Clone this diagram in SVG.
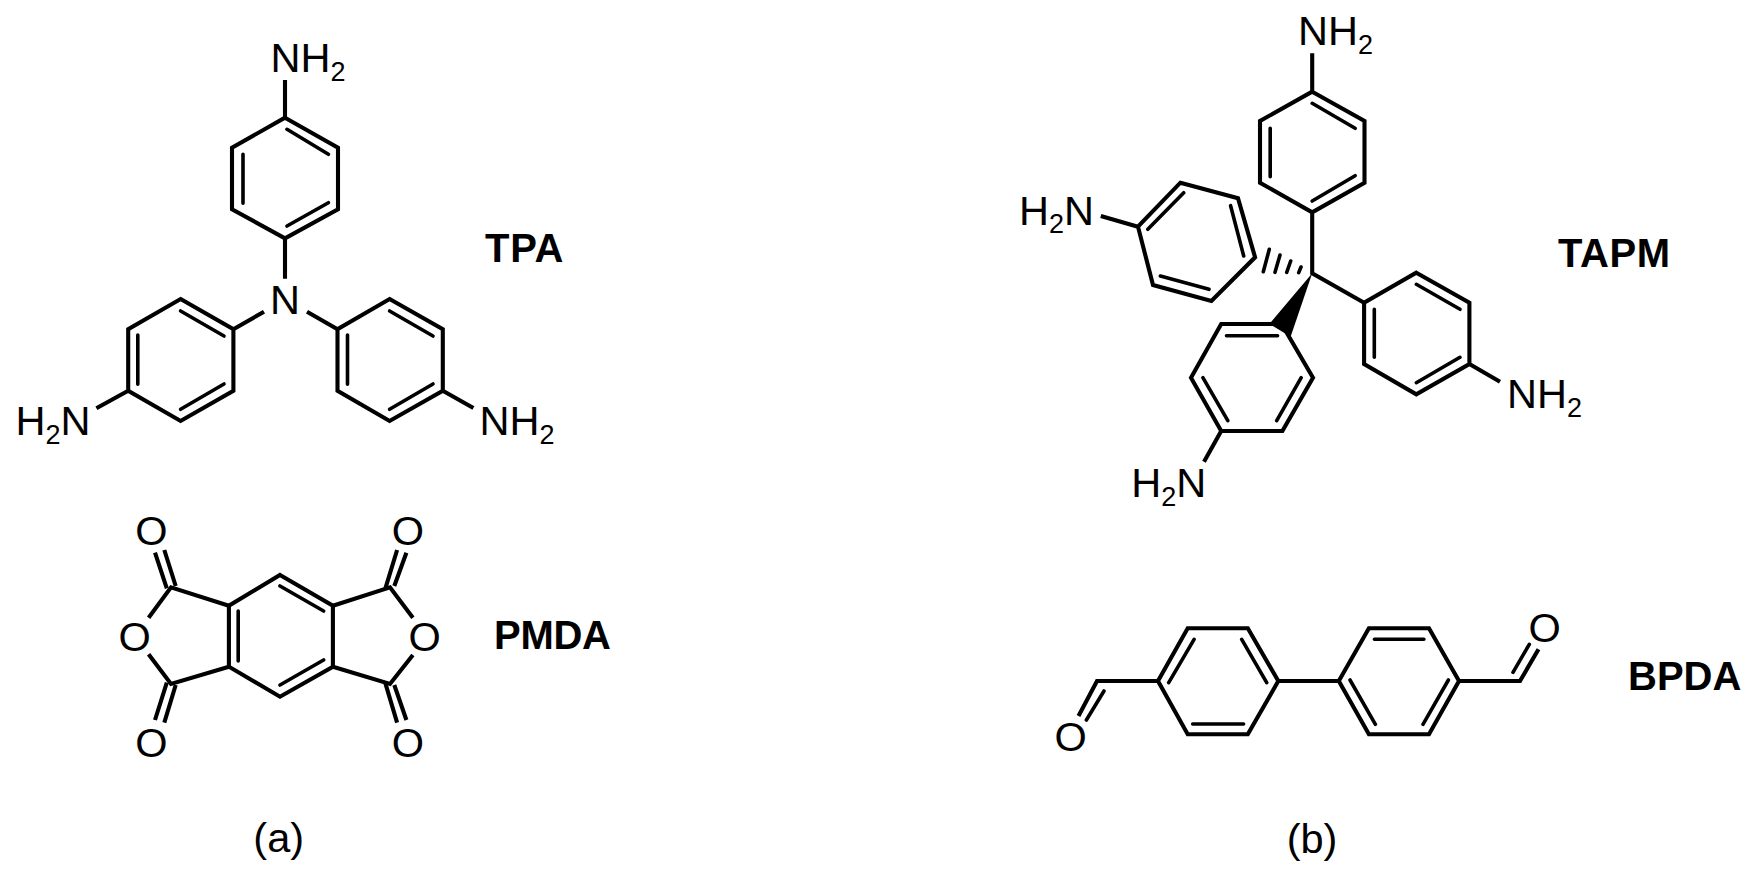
<svg xmlns="http://www.w3.org/2000/svg" width="1755" height="878" viewBox="0 0 1755 878">
<style>
.b{fill:none;stroke:#000;stroke-width:4.1;stroke-linejoin:miter;stroke-linecap:butt}
.d{fill:none;stroke:#000;stroke-width:3.6;stroke-linecap:round}
.h{fill:none;stroke:#000;stroke-width:3.6;stroke-linecap:round}
text{font-family:"Liberation Sans",Arial,sans-serif;font-size:41.5px;fill:#000}
text.l{font-weight:bold;font-size:40px}
.o{text-anchor:middle}
tspan.s{font-size:27px}
</style>
<rect width="1755" height="878" fill="#fff"/>
<g id="tpa">
<path class="b" d="M285 117.7L338 147.7V209.3L285 238.3L232 209.3V147.7ZM285 80V117.7M285 238.3V278.7"/>
<path class="d" d="M287 129.3L328.4 154.3M243 154.3V203.3M328.4 202.7L287 226"/>
<path class="b" d="M180.6 299L233.4 329.3V390.7L180.6 421L128.2 390.7V329.3ZM233.4 329.3L264 311.7M128.2 390.7L96.4 408.3"/>
<path class="d" d="M180.6 311L224 336M137.8 335V384.3M224 384L180.6 409.3"/>
<path class="b" d="M389.6 299L442.8 329.3V390.7L389.6 421L337.5 390.7V329.3ZM337.5 329.3L307 311.7M442.8 390.7L473.4 408"/>
<path class="d" d="M389.6 311L433 336M347.5 335V384.3M433 384L389.6 409.3"/>
<text x="270.5" y="72">NH<tspan class="s" dy="8.7">2</tspan></text>
<text x="285" y="314" class="o">N</text>
<text x="15.5" y="435">H<tspan class="s" dy="8.7">2</tspan><tspan dy="-8.7">N</tspan></text>
<text x="479.5" y="435">NH<tspan class="s" dy="8.7">2</tspan></text>
<text x="485" y="261.5" class="l" textLength="78.5">TPA</text>
</g>
<g id="pmda">
<path class="b" d="M280 575L332.9 605.7V666.7L280 696.7L228.9 666.7V605.7Z"/>
<path class="d" d="M280 586L323.6 611M238.2 611V661M323.6 660L280 685"/>
<path class="b" d="M228.9 605.7L171 587.3L148.6 617.7M148.6 654.3L171 684L228.9 666.7M332.9 605.7L390 587.3L412.9 617.7M412.9 655L390 684L332.9 666.7"/>
<path class="b" d="M164.3 550L175.7 586M155 552.7L166.8 588.3M164.3 722.7L175.7 685M155 720L166.8 682.7M397.1 550L385.4 588.3M406.4 552.7L394.3 586M397.1 722.7L385.4 683.3M406.4 720L394.3 685"/>
<text x="151.4" y="544.5" class="o">O</text>
<text x="407.9" y="544.5" class="o">O</text>
<text x="134.6" y="650.5" class="o">O</text>
<text x="424.6" y="650.5" class="o">O</text>
<text x="151.4" y="757" class="o">O</text>
<text x="407.9" y="757" class="o">O</text>
<text x="494" y="648.8" class="l" textLength="117">PMDA</text>
<text x="278.7" y="852.3" class="o">(a)</text>
</g>
<g id="tapm">
<path class="b" d="M1312.2 91.7L1364.5 121V182.7L1312.2 212.3L1260 182.7V121ZM1312.2 53.3V91.7M1312.2 212.3V273.3L1364.1 302.7"/>
<path class="d" d="M1312.2 103.3L1355.1 128.3M1270.2 128.3V176.7M1355.1 175.7L1312.2 201"/>
<path class="b" d="M1416.3 272.7L1469.4 302.7V364L1416.3 394.3L1364.1 364V302.7ZM1469.4 364L1500 381.7"/>
<path class="d" d="M1416.3 284.3L1460 309.3M1374.3 309.3V357.3M1460 357.3L1416.3 382.7"/>
<path class="b" d="M1180.4 182.7L1238 198.3L1255.1 257.3L1211.4 301L1153 285L1138 226.7ZM1138 226.7L1100.8 216"/>
<path class="d" d="M1183.7 192.7L1147.8 229.3M1230.6 205.7L1243.7 256M1209 289.3L1160.4 276"/>
<path class="h" d="M1301 267L1298.7 272.7M1290.7 261L1286.7 272.3M1280 255L1275 272.3M1269.3 249.3L1263.3 271.7"/>
<polygon points="1312.2,273.3 1269.4,324 1290.6,336.7" fill="#000"/>
<path class="b" d="M1221.2 324H1281.6L1313 377.7L1282.4 431H1221.2L1191 377.7ZM1221.2 431L1204 461.7"/>
<path class="d" d="M1226.5 335.7H1277.6M1301.2 377.7L1276.7 420.7M1202.9 377.7L1227.8 420.7"/>
<text x="1298" y="44.8">NH<tspan class="s" dy="8.7">2</tspan></text>
<text x="1019" y="224.5">H<tspan class="s" dy="8.7">2</tspan><tspan dy="-8.7">N</tspan></text>
<text x="1507" y="407.8">NH<tspan class="s" dy="8.7">2</tspan></text>
<text x="1131.3" y="497.2">H<tspan class="s" dy="8.7">2</tspan><tspan dy="-8.7">N</tspan></text>
<text x="1558" y="266.5" class="l" textLength="112">TAPM</text>
</g>
<g id="bpda">
<path class="b" d="M1187.7 628.3H1247.8L1278.3 681L1247.8 734.3H1187.7L1158 681ZM1278.3 681H1338.8M1158 681H1097L1078.5 716"/>
<path class="b" d="M1368.9 628.3H1429L1459 681L1429 734.3H1368.9L1338.8 681ZM1459 681H1520L1538.5 649.3"/>
<path class="d" d="M1194.1 639.3L1168.7 682.7M1241.7 639.3L1266.7 682.7M1192.7 724H1243.6M1374.4 639.3H1423.9M1350 680L1375.4 724.3M1448.4 680L1423 724.3M1513 672.3L1529.3 644.3M1104 691L1086.4 720"/>
<text x="1544.6" y="641.8" class="o">O</text>
<text x="1070.7" y="751.2" class="o">O</text>
<text x="1628" y="689.8" class="l">BPDA</text>
<text x="1312" y="852.7" class="o">(b)</text>
</g>
</svg>
